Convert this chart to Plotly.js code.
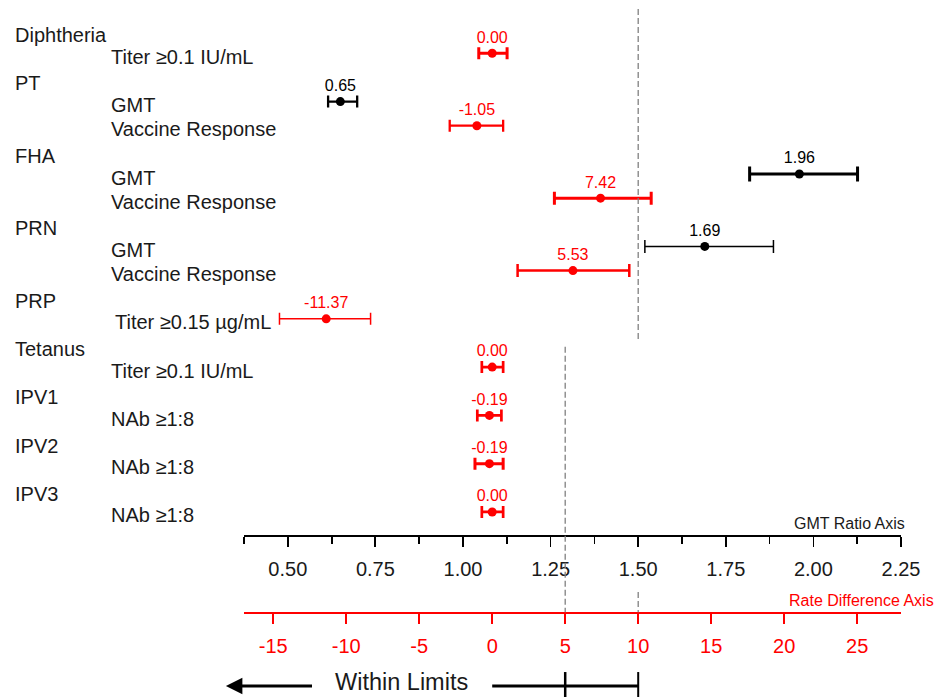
<!DOCTYPE html>
<html>
<head>
<meta charset="utf-8">
<script src="https://cdn.plot.ly/plotly-3.0.1.min.js"></script>
<style>html,body{margin:0;padding:0;background:#fff;}#chart{width:938px;height:698px;}</style>
</head>
<body>
<div id="chart"></div>
<script>
// ---- data ----
const groups = ['Diphtheria', 'PT', 'FHA', 'PRN', 'PRP', 'Tetanus', 'IPV1', 'IPV2', 'IPV3'];
const measureGroup = ['Diphtheria', 'PT', 'PT', 'FHA', 'FHA', 'PRN', 'PRN', 'PRP', 'Tetanus', 'IPV1', 'IPV2', 'IPV3'];
const measures = ['Titer \u22650.1 IU/mL', 'GMT', 'Vaccine Response', 'GMT', 'Vaccine Response', 'GMT', 'Vaccine Response',
                  'Titer \u22650.15 \u00b5g/mL', 'Titer \u22650.1 IU/mL', 'NAb \u22651:8', 'NAb \u22651:8', 'NAb \u22651:8'];
const measureType = ['rate', 'gmt', 'rate', 'gmt', 'rate', 'gmt', 'rate', 'rate', 'rate', 'rate', 'rate', 'rate'];
const estimate = [0.00, 0.65, -1.05, 1.96, 7.42, 1.69, 5.53, -11.37, 0.00, -0.19, -0.19, 0.00];
const lower    = [-0.92, 0.615, -2.91, 1.818, 4.26, 1.519, 1.74, -14.57, -0.71, -1.02, -1.18, -0.71];
const upper    = [1.02, 0.698, 0.75, 2.126, 10.89, 1.886, 9.39, -8.33, 0.75, 0.63, 0.75, 0.75];

const gmtTickVals = [0.50, 0.75, 1.00, 1.25, 1.50, 1.75, 2.00, 2.25];
const gmtTickText = ['0.50', '0.75', '1.00', '1.25', '1.50', '1.75', '2.00', '2.25'];
const rateTickVals = [-15, -10, -5, 0, 5, 10, 15, 20, 25];
const rateTickText = ['-15', '-10', '-5', '0', '5', '10', '15', '20', '25'];

// ---- styles ----
const barWidths = [3, 2.3, 2.3, 3, 3, 1.5, 2.5, 1.5, 2.7, 2.7, 3, 2.7];
const capWidths = [6, 6, 6, 7.5, 6.5, 6.5, 6.5, 6, 6, 6, 6, 6];
const RED = '#ff0000', BLACK = '#000000', TXT = '#1a1a1a';
const FONT = 'Liberation Sans, Arial, sans-serif';

// ---- layout rows ----
const groupRow = {}, measureRow = [];
let row = 0;
groups.forEach(g => {
  groupRow[g] = row++;
  measureGroup.forEach((mg, i) => { if (mg === g) measureRow[i] = row++; });
});

const traces = estimate.map((v, i) => {
  const isGmt = measureType[i] === 'gmt';
  const col = isGmt ? BLACK : RED;
  return {
    type: 'scatter',
    mode: 'markers+text',
    x: [v],
    y: [measureRow[i]],
    xaxis: isGmt ? 'x' : 'x2',
    yaxis: 'y',
    text: [v.toFixed(2).replace('\u2212', '-')],
    textposition: 'top center',
    textfont: {family: FONT, size: 16, color: col},
    marker: {color: col, size: 9},
    error_x: {type: 'data', symmetric: false, array: [upper[i] - v], arrayminus: [v - lower[i]],
              color: col, thickness: barWidths[i], width: capWidths[i]},
    hoverinfo: 'skip',
    showlegend: false,
    cliponaxis: false
  };
});

const annotations = [];
groups.forEach(g => {
  annotations.push({xref: 'paper', yref: 'y', x: -0.352, y: groupRow[g], xanchor: 'left', yanchor: 'middle',
    yshift: -6, text: g, showarrow: false, font: {family: FONT, size: 20, color: TXT}});
});
measures.forEach((m, i) => {
  annotations.push({xref: 'paper', yref: 'y', x: measureGroup[i] === 'PRP' ? -0.2 : -0.205, y: measureRow[i],
    xanchor: 'left', yanchor: 'middle', yshift: -3.5, text: m, showarrow: false,
    font: {family: FONT, size: 20, color: TXT}});
});
annotations.push({xref: 'paper', yref: 'paper', x: 1.0084, y: 0.2493, xanchor: 'right', yanchor: 'middle',
  text: 'GMT Ratio Axis', showarrow: false, font: {family: FONT, size: 16, color: TXT}});
annotations.push({xref: 'paper', yref: 'paper', x: 0.827, y: 0.1404, xanchor: 'left', yanchor: 'middle',
  text: 'Rate Difference Axis', showarrow: false, font: {family: FONT, size: 16, color: RED}});
annotations.push({xref: 'paper', yref: 'paper', x: 0.2394, y: 0.0229, xanchor: 'center', yanchor: 'middle',
  text: 'Within Limits', showarrow: false, font: {family: FONT, size: 23.5, color: TXT}});
annotations.push({xref: 'x2', yref: 'paper', x: -18.24, y: 0.0172, axref: 'x2', ax: -12.24, ay: 0,
  text: '', showarrow: true, arrowhead: 2, arrowsize: 1.1, arrowwidth: 3, arrowcolor: BLACK});

const dash = {color: '#808080', width: 1.3, dash: '6px,3px'};
const shapes = [
  {type: 'line', xref: 'x', yref: 'paper', x0: 1.5, x1: 1.5, y0: 0.9871, y1: 0.5129, line: dash},
  {type: 'line', xref: 'x2', yref: 'paper', x0: 10, x1: 10, y0: 0.1519, y1: 0.1228, line: dash},
  {type: 'line', xref: 'x2', yref: 'paper', x0: 5, x1: 5, y0: 0.5033, y1: 0.1228, line: dash},
  {type: 'line', xref: 'x2', yref: 'paper', x0: 0, x1: 10, y0: 0.0172, y1: 0.0172, line: {color: BLACK, width: 3}},
  {type: 'line', xref: 'x2', yref: 'paper', x0: 5, x1: 5, y0: 0.0372, y1: 0.0014, line: {color: BLACK, width: 2.5}},
  {type: 'line', xref: 'x2', yref: 'paper', x0: 10, x1: 10, y0: 0.0372, y1: 0.0014, line: {color: BLACK, width: 2}}
];

const layout = {
  width: 938, height: 698,
  margin: {l: 243.5, r: 36.5, t: 0, b: 0},
  paper_bgcolor: '#ffffff', plot_bgcolor: '#ffffff',
  showlegend: false,
  font: {family: FONT, color: TXT},
  xaxis: {
    range: [0.375, 2.25], anchor: 'free', position: 0.2321,
    tickvals: gmtTickVals, ticktext: gmtTickText,
    ticks: 'outside', ticklen: 10, tickwidth: 1.8, tickcolor: BLACK,
    ticklabelstandoff: 5,
    minor: {tick0: 0.375, dtick: 0.125, ticks: 'outside', ticklen: 7, tickwidth: 1.8, tickcolor: BLACK, showgrid: false},
    showline: true, linecolor: BLACK, linewidth: 2,
    showgrid: false, zeroline: false,
    tickfont: {family: FONT, size: 20, color: TXT}
  },
  xaxis2: {
    range: [-17, 28], overlaying: 'x', anchor: 'free', position: 0.1228, side: 'bottom',
    tickvals: rateTickVals, ticktext: rateTickText,
    ticks: 'outside', ticklen: 10, tickwidth: 1.8, tickcolor: RED,
    ticklabelstandoff: 5,
    showline: true, linecolor: RED, linewidth: 1.5,
    showgrid: false, zeroline: false,
    tickfont: {family: FONT, size: 20, color: RED}
  },
  yaxis: {
    range: [20.747, -0.835], domain: [0.2407, 0.9871],
    visible: false, showgrid: false, zeroline: false
  },
  annotations: annotations,
  shapes: shapes
};

Plotly.newPlot('chart', traces, layout, {staticPlot: true, displayModeBar: false});
</script>
</body>
</html>
